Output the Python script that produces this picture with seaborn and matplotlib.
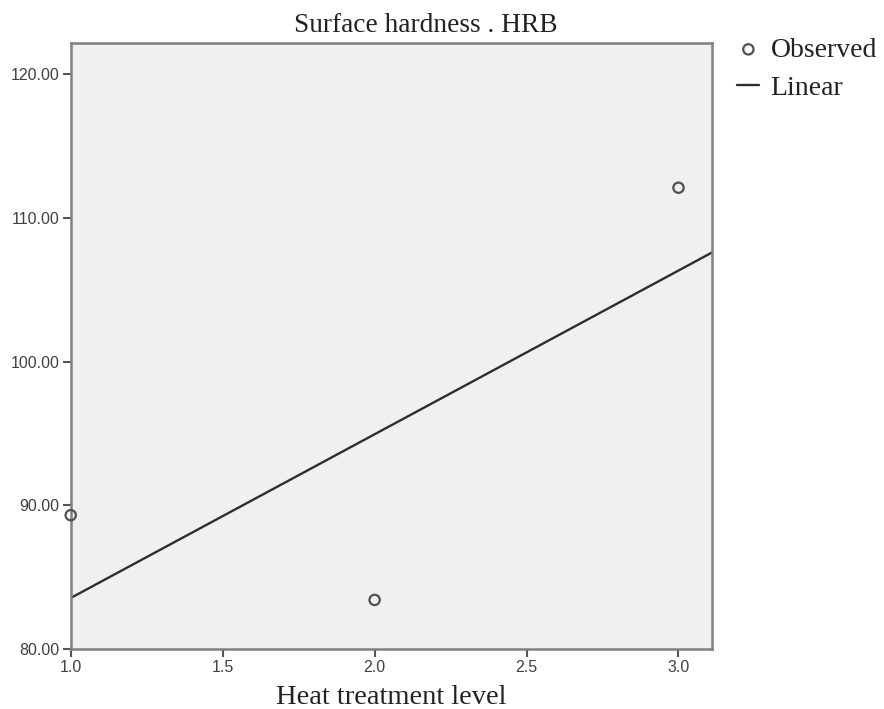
import numpy as np
import pandas as pd
import matplotlib
matplotlib.use("Agg")
import matplotlib.pyplot as plt
import seaborn as sns

heat_level = [1.0, 2.0, 3.0]
hardness = [89.3, 83.4, 112.1]

x_ticks = [1.0, 1.5, 2.0, 2.5, 3.0]
y_ticks = [80, 90, 100, 110, 120]

sns.set_style("white")
plt.rcParams["font.family"] = ["Liberation Serif", "DejaVu Serif"]

df = pd.DataFrame({"level": heat_level, "hrb": hardness})

# linear fit, drawn across the full x range of the axes
slope, intercept = np.polyfit(df["level"], df["hrb"], 1)
x_lo, x_hi = 1.0, 3.109
fit = pd.DataFrame({"level": [x_lo, x_hi]})
fit["hrb"] = intercept + slope * fit["level"]

fig = plt.figure(figsize=(8.84, 7.09), dpi=100)
ax = fig.add_axes([0.080, 0.085, 0.725, 0.854])
ax.set_facecolor("#f0f0f0")

sns.lineplot(data=fit, x="level", y="hrb", ax=ax, color="#2e2e2e",
             linewidth=1.7, label="Linear", zorder=2)
sns.scatterplot(data=df, x="level", y="hrb", ax=ax, s=55, marker="o",
                facecolors="none", edgecolor="#505050", linewidth=1.6,
                label="Observed", zorder=3, clip_on=False)

ax.set_xlim(x_lo, x_hi)
ax.set_ylim(80, 122.16)
ax.set_xticks(x_ticks)
ax.set_yticks(y_ticks)
ax.set_xticklabels([f"{v:.1f}" for v in x_ticks])
ax.set_yticklabels([f"{v:.2f}" for v in y_ticks])

for lab in ax.get_xticklabels() + ax.get_yticklabels():
    lab.set_family(["Liberation Sans", "DejaVu Sans"])
    lab.set_fontsize(11.5)
    lab.set_color("#404040")
ax.tick_params(axis="both", direction="out", length=6, width=1.5,
               color="#555555", pad=2, bottom=True, left=True)

for sp in ax.spines.values():
    sp.set_color("#808080")
    sp.set_linewidth(1.8)

ax.set_title("Surface hardness . HRB", fontsize=19.7, color="#222222",
             x=0.554, pad=8)
ax.set_xlabel("Heat treatment level", fontsize=20.5, color="#222222", labelpad=7)
ax.set_ylabel("")

# legend outside the plot on the right, observed first
handles, labels = ax.get_legend_handles_labels()
order = [labels.index("Observed"), labels.index("Linear")]
leg = ax.legend([handles[i] for i in order], [labels[i] for i in order],
                loc="upper left", bbox_to_anchor=(1.04, 1.01), frameon=False,
                fontsize=20, handlelength=0.8, handletextpad=0.4,
                labelspacing=0.45, borderaxespad=0, borderpad=0)
for t in leg.get_texts():
    t.set_color("#222222")

fig.savefig("out.png", dpi=100)
